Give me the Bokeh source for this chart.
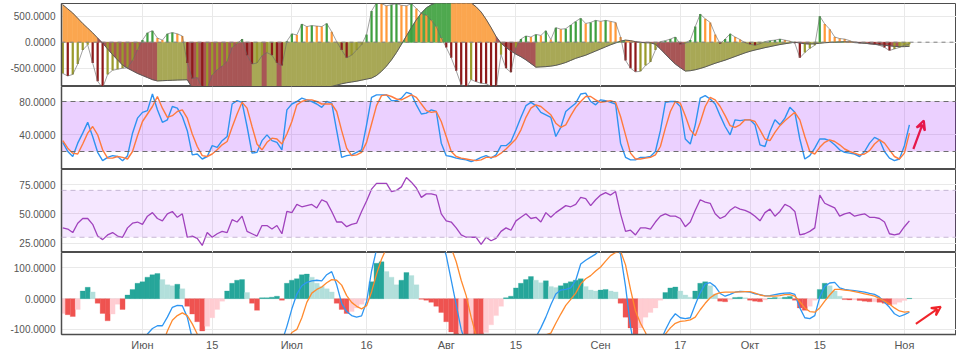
from bokeh.plotting import figure
from bokeh.layouts import column
from bokeh.models import Range1d, FixedTicker, NumeralTickFormatter, Span, BoxAnnotation, Arrow, VeeHead
from bokeh.embed import file_html
from bokeh.resources import INLINE

# ---------------- data ----------------
tick_idx = [16, 30, 46, 61, 77, 91, 108, 124, 138, 152, 169]
tick_labels = ["Июн", "15", "Июл", "16", "Авг", "15", "Сен", "17", "Окт", "15", "Ноя"]

# panel 1: smooth oscillator (area) and fast oscillator (bars)
osc_smooth = [720, 640, 560, 460, 360, 270, 180, 80, -20, -130,
              -240, -340, -440, -500, -550, -600, -640, -680, -720, -745,
              -740, -736, -732, -728, -725, -722, -880, -930, -970, -1000,
              -1030, -1050, -1070, -1085, -1095, -1105, -1112, -1118, -1122, -1110,
              -1100, -1105, -1090, -1080, -1085, -1070, -1050, -1030, -1010, -990,
              -965, -940, -910, -880, -850, -825, -800, -780, -765, -750,
              -730, -710, -690, -640, -560, -460, -340, -200, -40, 120,
              280, 430, 560, 660, 720, 760, 800, 830, 840, 835,
              815, 790, 755, 680, 580, 440, 280, 110, -20, -100,
              -170, -230, -280, -340, -410, -480, -475, -470, -460, -445,
              -420, -390, -350, -310, -280, -250, -210, -170, -130, -90,
              -50, -15, 20, 40, 30, 10, -5, -10, -12, -40,
              -130, -230, -330, -420, -490, -555, -548, -530, -505, -475,
              -440, -405, -375, -345, -310, -275, -240, -205, -175, -150,
              -128, -105, -85, -65, -45, -30, -15, 0, -15, -30,
              -35, -30, -20, -10, -5, 0, 5, 8, 5, 0,
              -10, -20, -30, -40, -50, -60, -70, -80, -85, -85,
              -80]
osc_fast = [-600, -650, -620, -420, -150, -50, -400, -750, -880, -620,
            -540, -520, -500, -490, -350, -150, 40, 180, 220, 80,
            40, 160, 185, 160, 120, -400, -700, -680, -880, -880,
            -630, -530, -460, -370, -100, -30, 60, -250, -420, -400,
            -260, -200, -250, -400, -450, 20, 160, 140, 350, 300,
            320, 310, 300, 360, 200, 10, -150, -300, -250, -150,
            -50, 150, 600, 760, 740, 700, 720, 740, 710, 700,
            740, 650, 550, 520, 420, 300, 80, -100, -300, -550,
            -820, -880, -720, -760, -790, -800, -850, -880, -240, -500,
            -580, -100, 60, 120, 100, 150, 130, 220, 50, 280,
            250, 260, 330, 400, 460, 360, 380, 420, 400, 420,
            400, 380, 100, -350, -500, -570, -560, -450, -380, -150,
            10, 30, 60, 100, -40, -20, 40, 300, 540, 450,
            380, 150, -30, 60, 160, 100, 50, -10, -40, -60,
            -30, 10, 30, 40, 60, 40, 20, -20, -300, -200,
            -120, -60, 500, 350, 250, 100, 70, 60, 30, -10,
            -20, -20, -30, -40, -60, -100, -160, -130, -100, -60,
            -40]

# panel 2: stochastic RSI
stoch_k = [31, 20, 14, 30, 42, 55, 38, 19, 9, 13,
           15, 14, 9, 15, 42, 60, 67, 69, 89, 70,
           55, 58, 74, 72, 62, 45, 16, 17, 11, 14,
           27, 25, 33, 38, 77, 81, 79, 50, 18, 19,
           33, 40, 33, 31, 22, 70, 77, 80, 84, 82,
           80, 77, 73, 80, 78, 45, 13, 15, 16, 19,
           22, 52, 85, 88, 88, 88, 81, 81, 84, 91,
           89, 76, 65, 66, 70, 68, 30, 15, 14, 12,
           11, 10, 8, 10, 13, 15, 12, 16, 27, 27,
           32, 46, 61, 75, 79, 75, 67, 64, 61, 38,
           49, 68, 73, 78, 89, 90, 80, 76, 82, 81,
           79, 77, 30, 13, 10, 10, 13, 13, 14, 20,
           45, 79, 80, 80, 74, 35, 29, 52, 84, 87,
           83, 77, 63, 50, 40, 58, 57, 58, 58, 52,
           28, 26, 44, 58, 52, 60, 73, 67, 35, 11,
           15, 24, 35, 35, 33, 28, 22, 19, 18, 17,
           14, 20, 30, 37, 34, 20, 12, 9, 11, 27,
           52]
stoch_d = [33, 24, 18, 17, 29, 42, 50, 40, 22, 12,
           12, 14, 13, 11, 20, 39, 56, 65, 74, 86,
           72, 61, 63, 68, 70, 60, 41, 26, 15, 14,
           17, 22, 28, 32, 49, 65, 79, 72, 50, 29,
           22, 31, 36, 35, 29, 41, 56, 76, 80, 82,
           82, 80, 77, 77, 77, 68, 45, 24, 15, 16,
           19, 31, 53, 75, 87, 88, 86, 83, 82, 85,
           88, 85, 77, 69, 67, 68, 56, 38, 20, 14,
           12, 11, 10, 9, 10, 13, 13, 14, 18, 23,
           29, 35, 46, 61, 72, 76, 74, 69, 64, 54,
           49, 52, 63, 73, 80, 86, 86, 82, 79, 80,
           81, 79, 62, 40, 18, 11, 11, 12, 13, 16,
           26, 48, 68, 80, 78, 63, 46, 39, 55, 74,
           85, 82, 74, 63, 51, 49, 52, 58, 58, 56,
           46, 35, 33, 43, 51, 57, 62, 67, 58, 38,
           20, 17, 25, 31, 34, 32, 28, 23, 20, 18,
           16, 17, 21, 29, 34, 30, 22, 14, 11, 18,
           42]

# panel 3: RSI
rsi = [38, 37, 34, 42, 46, 46, 41, 31, 28, 32,
       34, 31, 30, 38, 42, 43, 41, 48, 51, 46,
       44, 50, 52, 47, 50, 30, 31, 29, 23, 34,
       30, 33, 35, 34, 45, 43, 48, 35, 33, 31,
       40, 40, 37, 40, 33, 52, 51, 58, 56, 57,
       58, 55, 62, 60, 52, 43, 43, 39, 41, 42,
       52, 61, 71, 76, 76, 76, 69, 70, 73, 81,
       77, 72, 64, 67, 67, 66, 50, 44, 43, 38,
       32, 30, 30, 30, 24, 30, 27, 29, 35, 38,
       36, 44, 47, 50, 46, 47, 43, 51, 47, 51,
       54, 57, 56, 58, 64, 63, 57, 62, 66, 68,
       66, 69, 50, 35, 36, 32, 38, 38, 37, 43,
       48, 50, 48, 48, 46, 39, 43, 53, 62, 60,
       59, 50, 46, 48, 53, 56, 54, 53, 51, 48,
       44, 51, 54, 48, 52, 58, 56, 52, 32, 33,
       35, 38, 66, 59, 57, 55, 48, 50, 51, 48,
       49, 50, 47, 47, 46, 43, 33, 32, 33, 39,
       44]

# panel 4: MACD
macd_hist = [-48, -52, -58, -35, 25, 37, 22, -15, -48, -72,
             -50, -18, -35, 12, 30, 50, 55, 70, 78, 82,
             62, 45, 42, 47, 32, -25, -50, -75, -105, -90,
             -62, -35, -8, 25, 50, 60, 62, 20, -15, -38,
             3, 3, 5, 8, -5, 50, 60, 65, 78, 80,
             70, 50, 40, 32, 22, -15, -35, -48, -42, -30,
             -18, -5, 55, 115, 120, 88, 70, 45, 60, 85,
             75, 45, -2, -5, -12, -25, -45, -75, -108, -118,
             -112, -125, -120, -130, -135, -110, -85, -55, -25, 3,
             8, 35, 50, 62, 72, 60, 52, 58, 40, 36,
             42, 50, 55, 60, 65, 40, 28, 25, 28, 30,
             25, 22, -15, -60, -95, -125, -95, -60, -45, -30,
             -5, 20, 35, 38, 25, 12, 5, 25, 50, 55,
             42, 15, -8, -10, -3, 4, 5, 3, -5, -8,
             -10, -4, 2, 4, 3, 5, 7, -5, -30, -38,
             -25, -5, 30, 50, 42, 25, 8, -3, -4, -4,
             -6, -8, -10, -10, -12, -15, -20, -18, -12, -6,
             1]
macd_line = [-250, -260, -265, -265, -260, -250, -245, -245, -250, -255,
             -260, -262, -260, -240, -210, -175, -140, -115, -97, -88,
             -88, -60, -28, -22, -23, -60, -130, -175, -210, -230,
             -240, -240, -235, -215, -190, -170, -150, -150, -165, -175,
             -170, -165, -160, -150, -140, -90, -33, 15, 42, 53,
             58, 60, 58, 78, 88, 45, -15, -42, -55, -60,
             -56, -10, 90, 160, 220, 260, 290, 310, 330, 345,
             350, 345, 330, 310, 280, 240, 190, 140, 60, -20,
             -100, -150, -190, -230, -260, -280, -290, -295, -290, -280,
             -260, -240, -210, -180, -150, -125, -95, -60, -20, 15,
             28, 30, 35, 60, 113, 125, 135, 145, 160, 175,
             185, 175, 145, 40, -90, -180, -175, -170, -195, -180,
             -140, -102, -70, -49, -62, -65, -62, -20, 19, 48,
             52, 40, 17, 8, 14, 21, 24, 23, 21, 16,
             13, 9, 10, 13, 16, 18, 19, 14, -30, -62,
             -65, -55, 5, 40, 51, 53, 35, 30, 28, 26,
             24, 21, 17, 14, 5, -12, -28, -49, -58, -52,
             -44]
macd_signal = [-202, -208, -210, -228, -285, -287, -265, -230, -202, -183,
               -195, -207, -225, -250, -240, -225, -195, -185, -175, -170,
               -150, -105, -70, -55, -46, -55, -82, -115, -140, -160,
               -178, -205, -227, -240, -240, -230, -212, -170, -150, -140,
               -172, -168, -165, -158, -135, -140, -110, -100, -62, -12,
               18, 30, 38, 52, 62, 60, 44, 10, -12, -25,
               -33, -23, 22, 80, 128, 165, 200, 240, 265, 285,
               295, 300, 300, 295, 285, 265, 235, 205, 165, 120,
               60, 10, -60, -120, -140, -170, -205, -240, -265, -282,
               -270, -275, -260, -245, -222, -185, -147, -118, -112, -80,
               -50, -22, -2, 18, 48, 65, 75, 90, 103, 122,
               140, 150, 155, 110, 30, -40, -80, -110, -150, -150,
               -135, -115, -95, -80, -74, -72, -69, -60, -36, -15,
               3, 14, 20, 21, 21, 21, 22, 23, 23, 18,
               12, 9, 8, 8, 10, 13, 13, 8, -10, -30,
               -42, -44, -30, -8, 12, 30, 30, 28, 26, 23,
               20, 16, 12, 8, 1, -8, -17, -30, -40, -44,
               -42]

# annotation arrows (data coordinates: day index, value)
arrow_stoch = [170.8, 23, 172.9, 57]
arrow_macd = [171.3, -82, 176.3, -26]

# ---------------- styling helpers ----------------
n = min(len(osc_smooth), len(osc_fast), len(stoch_k), len(stoch_d), len(rsi),
        len(macd_hist), len(macd_line), len(macd_signal))
xs = list(range(n))
X_RANGE = Range1d(-0.26, 179.46)
AXIS_C = "#4d4d4d"
LABEL_C = "#555555"
GRID_C = "#e9e9e9"
FONT = "Liberation Sans"


def make_fig(height, y0, y1, yticks, top=0, bottom=0, with_x=False):
    p = figure(width=956, height=height, x_range=X_RANGE, y_range=Range1d(y0, y1),
               output_backend="svg", toolbar_location=None,
               x_axis_location="below" if with_x else None,
               min_border_left=61, min_border_right=0,
               min_border_top=top, min_border_bottom=bottom)
    p.background_fill_color = "white"
    p.border_fill_color = "white"
    p.outline_line_color = AXIS_C
    p.outline_line_width = 1
    p.yaxis.ticker = FixedTicker(ticks=yticks)
    p.yaxis.formatter = NumeralTickFormatter(format="0.0000")
    p.yaxis.major_tick_line_color = None
    p.yaxis.minor_tick_line_color = None
    p.yaxis.major_tick_out = 0
    p.yaxis.major_label_standoff = 6
    p.yaxis.axis_line_color = AXIS_C
    p.yaxis.axis_line_width = 1.5
    p.yaxis.major_label_text_font = FONT
    p.yaxis.major_label_text_font_size = "10px"
    p.yaxis.major_label_text_color = LABEL_C
    p.xgrid.ticker = FixedTicker(ticks=tick_idx)
    p.ygrid.ticker = FixedTicker(ticks=yticks)
    p.xgrid.grid_line_color = GRID_C
    p.ygrid.grid_line_color = GRID_C
    if with_x:
        p.xaxis.ticker = FixedTicker(ticks=tick_idx)
        p.xaxis.major_label_overrides = {t: l for t, l in zip(tick_idx, tick_labels)}
        p.xaxis.major_tick_line_color = None
        p.xaxis.minor_tick_line_color = None
        p.xaxis.major_tick_out = 0
        p.xaxis.major_label_standoff = 4
        p.xaxis.axis_line_color = AXIS_C
        p.xaxis.axis_line_width = 1.5
        p.xaxis.major_label_text_font = FONT
        p.xaxis.major_label_text_font_size = "11px"
        p.xaxis.major_label_text_color = LABEL_C
    return p


# ---------------- panel 1 ----------------
p1 = make_fig(86, -852, 744, [-500, 0, 500], top=3)
patch_x, patch_y, patch_c = [], [], []
for i in range(1, n):
    pos = osc_smooth[i] >= 0
    up = osc_smooth[i] >= osc_smooth[i - 1]
    if pos:
        c = "#4fa94f" if up else "#fba64f"
    else:
        c = "#a8a856" if up else "#a85656"
    patch_x.append([i - 1, i - 1, i, i])
    patch_y.append([0, osc_smooth[i - 1], osc_smooth[i], 0])
    patch_c.append(c)
p1.patches(patch_x, patch_y, fill_color=patch_c, line_color=patch_c, line_width=0.6)

bar_c = []
for i in range(n):
    prev = osc_fast[i - 1] if i > 0 else osc_fast[i]
    up = osc_fast[i] >= prev
    if osc_fast[i] >= 0:
        bar_c.append("#3f9f3f" if up else "#ff9a3a")
    else:
        bar_c.append("#9a9a2c" if up else "#8e1a1a")
p1.vbar(x=xs, top=osc_fast[:n], bottom=0, width=0.45, fill_color=bar_c, line_color=None)
p1.line(xs, osc_smooth[:n], line_color="#5a5a5a", line_width=1)
p1.line(xs, osc_fast[:n], line_color="#6a6a6a", line_width=0.8, line_alpha=0.8)
p1.add_layout(Span(location=0, dimension="width", line_color="#808080",
                   line_dash="4 4", line_width=1))

# ---------------- panel 2 ----------------
p2 = make_fig(83, -1.6, 98, [40, 80])
p2.add_layout(BoxAnnotation(bottom=20, top=80, fill_color="#9915ff", fill_alpha=0.2,
                            line_color=None, level="underlay"))
for lv in (20, 80):
    p2.add_layout(Span(location=lv, dimension="width", line_color="#6e6e6e",
                       line_dash="5 4", line_width=1))
p2.line(xs, stoch_k[:n], line_color="#2e93f0", line_width=1.4)
p2.line(xs, stoch_d[:n], line_color="#ff7a3d", line_width=1.4)
p2.add_layout(Arrow(end=VeeHead(size=9, line_color="#e6174b", line_width=2.2, fill_color=None),
                    x_start=arrow_stoch[0], y_start=arrow_stoch[1],
                    x_end=arrow_stoch[2], y_end=arrow_stoch[3],
                    line_color="#e6174b", line_width=2.2))

# ---------------- panel 3 ----------------
p3 = make_fig(83, 17, 87.8, [25, 50, 75])
p3.add_layout(BoxAnnotation(bottom=30, top=70, fill_color="#9915ff", fill_alpha=0.1,
                            line_color=None, level="underlay"))
for lv in (30, 70):
    p3.add_layout(Span(location=lv, dimension="width", line_color="#c6b6d4",
                       line_dash="5 4", line_width=1))
p3.line(xs, rsi[:n], line_color="#a042bd", line_width=1.3)

# ---------------- panel 4 ----------------
p4 = make_fig(101, -116.5, 150.2, [-100, 0, 100], bottom=17, with_x=True)
hist_c = []
for i in range(n):
    prev = macd_hist[i - 1] if i > 0 else macd_hist[i]
    up = macd_hist[i] >= prev
    if macd_hist[i] >= 0:
        hist_c.append("#26a69a" if up else "#b2dfdb")
    else:
        hist_c.append("#ffcdd2" if up else "#ef5350")
p4.vbar(x=xs, top=macd_hist[:n], bottom=0, width=1.0, fill_color=hist_c,
        line_color=hist_c, line_width=0.3)
p4.line(xs, macd_line[:n], line_color="#2e96f2", line_width=1.3)
p4.line(xs, macd_signal[:n], line_color="#ff8a2e", line_width=1.3)
p4.add_layout(Arrow(end=VeeHead(size=9, line_color="#f0242a", line_width=2, fill_color=None),
                    x_start=arrow_macd[0], y_start=arrow_macd[1],
                    x_end=arrow_macd[2], y_end=arrow_macd[3],
                    line_color="#f0242a", line_width=2))

layout = column(p1, p2, p3, p4, spacing=0)
open("out.html", "w").write(file_html(layout, INLINE))
